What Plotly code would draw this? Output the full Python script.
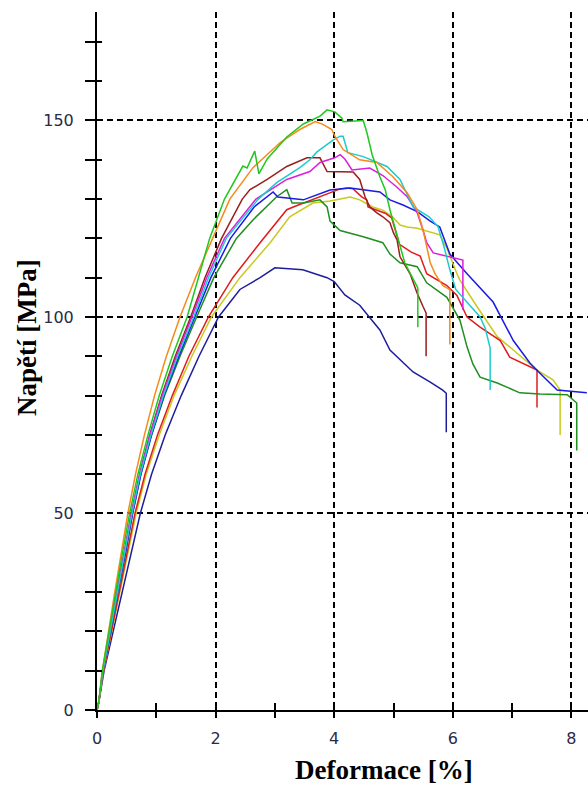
import plotly.graph_objects as go

# ---- data: strain [%] and stress [MPa] per specimen ----
X_ORANGE = [0, 0.03, 0.09, 0.19, 0.30, 0.41, 0.52, 0.65, 0.80, 0.97, 1.17, 1.40, 1.66, 1.95, 2.24, 2.63, 3.09, 3.42, 3.68, 3.81, 3.96, 4.01, 4.15, 4.43, 4.72, 4.99, 5.23, 5.40, 5.50, 5.62, 5.70, 5.83, 5.95, 5.95]
Y_ORANGE = [0, 2, 10, 20, 30, 40, 50, 60, 70, 80, 90, 100, 110, 120, 130, 138, 144.4, 147.7, 149.7, 149, 147.7, 146, 142.6, 140, 139.3, 135.7, 131.6, 127.3, 122, 113.8, 111, 108, 107, 93]

X_GREEN = [0, 0.03, 0.09, 0.20, 0.31, 0.43, 0.55, 0.69, 0.86, 1.05, 1.27, 1.52, 1.71, 1.90, 2.15, 2.36, 2.46, 2.53, 2.66, 2.73, 2.87, 3.20, 3.48, 3.76, 3.88, 4.01, 4.13, 4.15, 4.49, 4.55, 4.64, 4.77, 4.86, 4.94, 5.19, 5.41, 5.41]
Y_GREEN = [0, 2, 10, 20, 30, 40, 50, 60, 70, 80, 90, 100, 110, 120, 130, 135.7, 138.4, 137.9, 142.2, 136.4, 140.2, 145.8, 149.1, 151.1, 152.7, 152.2, 150.6, 149.7, 150, 147, 141.3, 135.7, 132.4, 127.3, 113.8, 107.4, 97.4]

X_CYAN = [0, 0.03, 0.10, 0.22, 0.34, 0.47, 0.59, 0.73, 0.91, 1.12, 1.36, 1.63, 1.88, 2.18, 2.72, 3.03, 3.42, 3.59, 3.71, 3.98, 4.10, 4.15, 4.18, 4.23, 4.49, 4.89, 5.11, 5.33, 5.60, 5.75, 5.85, 5.95, 6.05, 6.20, 6.46, 6.55, 6.63, 6.63]
Y_CYAN = [0, 2, 10, 20, 30, 40, 50, 60, 70, 80, 90, 100, 110, 120, 130, 134.2, 138, 140, 142, 145, 146, 146, 144.4, 141.8, 140.8, 138.3, 135, 128, 125.5, 123, 118, 112, 107, 104.5, 100, 97, 92, 81.4]

X_MAGENTA = [0, 0.03, 0.10, 0.21, 0.33, 0.46, 0.58, 0.72, 0.89, 1.10, 1.34, 1.60, 1.85, 2.15, 2.68, 3.20, 3.59, 3.76, 4.01, 4.10, 4.18, 4.30, 4.60, 4.82, 5.06, 5.23, 5.40, 5.50, 5.56, 5.67, 5.95, 6.17, 6.17]
Y_MAGENTA = [0, 2, 10, 20, 30, 40, 50, 60, 70, 80, 90, 100, 110, 120, 130, 135, 137, 139.3, 140.5, 141.3, 140.2, 137.4, 137.9, 136, 133, 130.6, 126.5, 122, 118.9, 116.3, 115.3, 114.5, 101.8]

X_BROWN = [0, 0.03, 0.10, 0.21, 0.33, 0.46, 0.58, 0.72, 0.89, 1.09, 1.32, 1.58, 1.82, 2.10, 2.45, 2.58, 2.87, 3.20, 3.54, 3.76, 3.88, 4.32, 4.43, 4.52, 4.60, 4.72, 4.82, 4.94, 5.00, 5.06, 5.11, 5.28, 5.40, 5.50, 5.55, 5.55]
Y_BROWN = [0, 2, 10, 20, 30, 40, 50, 60, 70, 80, 90, 100, 110, 120, 130, 132.4, 135, 138.3, 140.5, 140.5, 137, 136.9, 135, 130.6, 128, 126.5, 125.5, 124, 121.4, 119.6, 115.3, 111, 106, 102.6, 101, 90]

X_BLUE = [0, 0.03, 0.10, 0.22, 0.35, 0.48, 0.60, 0.74, 0.92, 1.13, 1.38, 1.65, 1.92, 2.25, 2.65, 2.97, 3.05, 3.48, 3.93, 4.27, 4.77, 4.94, 5.16, 5.40, 5.62, 5.78, 5.95, 6.24, 6.68, 7.02, 7.30, 7.47, 7.76, 8.26]
Y_BLUE = [0, 2, 10, 20, 30, 40, 50, 60, 70, 80, 90, 100, 110, 120, 128, 131.8, 130.5, 129.8, 132.3, 132.8, 131.8, 129.8, 128.5, 126.8, 124.4, 122.9, 116, 111, 103.8, 94, 88.3, 85.7, 81.4, 80.7]

X_DKGREEN = [0, 0.03, 0.10, 0.22, 0.35, 0.48, 0.60, 0.74, 0.92, 1.14, 1.40, 1.68, 1.97, 2.35, 2.63, 3.03, 3.20, 3.29, 3.48, 3.76, 3.88, 3.93, 4.10, 4.49, 4.82, 4.94, 5.11, 5.40, 5.56, 5.90, 6.00, 6.12, 6.24, 6.34, 6.46, 6.75, 7.13, 7.47, 7.93, 8.09, 8.09]
Y_DKGREEN = [0, 2, 10, 20, 30, 40, 50, 60, 70, 80, 90, 100, 110, 120, 124.7, 130.6, 132.4, 129, 129, 129.8, 128, 124.4, 122, 120.4, 118.9, 116, 113.8, 112.8, 108.7, 105, 102.5, 99.2, 92.4, 88, 84.7, 83.2, 80.7, 80.4, 80.2, 78.1, 66]

X_RED = [0, 0.03, 0.11, 0.24, 0.37, 0.51, 0.64, 0.81, 1.02, 1.27, 1.55, 1.88, 2.29, 2.75, 3.20, 3.31, 3.71, 4.10, 4.22, 4.32, 4.47, 4.55, 4.57, 4.72, 4.86, 4.97, 5.10, 5.30, 5.45, 5.56, 5.90, 6.07, 6.24, 6.46, 6.65, 6.80, 6.96, 7.18, 7.42, 7.42]
Y_RED = [0, 2, 10, 20, 30, 40, 50, 60, 70, 80, 90, 100, 110, 118.9, 127.3, 128, 130.4, 132.6, 132.8, 132.6, 130.5, 129.8, 128, 127.2, 126.4, 125.2, 118.5, 116.5, 115.5, 111, 108, 105.5, 100, 97.4, 95.5, 94, 89.8, 88.3, 86.5, 77]

X_YELLOW = [0, 0.03, 0.11, 0.25, 0.38, 0.52, 0.66, 0.83, 1.05, 1.30, 1.60, 1.93, 2.41, 2.92, 3.25, 3.64, 3.93, 4.27, 4.43, 4.65, 4.82, 4.99, 5.11, 5.23, 5.40, 5.78, 5.90, 6.07, 6.12, 6.41, 6.75, 7.02, 7.42, 7.69, 7.81, 7.81]
Y_YELLOW = [0, 2, 10, 20, 30, 40, 50, 60, 70, 80, 90, 100, 110, 118.9, 125.5, 129, 129.5, 130.5, 129.8, 128, 127.2, 125.4, 123.4, 122.9, 122.6, 120.9, 117.5, 111, 109.4, 102.6, 95, 91.6, 86.5, 84, 81.4, 70]

X_NAVY = [0, 0.03, 0.12, 0.27, 0.42, 0.58, 0.73, 0.92, 1.15, 1.42, 1.72, 2.05, 2.41, 2.75, 3.00, 3.47, 3.88, 4.00, 4.18, 4.43, 4.60, 4.77, 4.94, 5.33, 5.62, 5.83, 5.89, 5.89]
Y_NAVY = [0, 2, 10, 20, 30, 40, 50, 60, 70, 80, 90, 100, 107, 110, 112.5, 112, 110, 109, 105.6, 103, 99.7, 96.7, 91.6, 86, 83.4, 81.4, 80.6, 70.7]

SERIES = [
    ("navy", X_NAVY, Y_NAVY, "#1e1e9c"),
    ("yellow", X_YELLOW, Y_YELLOW, "#c9c91e"),
    ("red", X_RED, Y_RED, "#e01c1c"),
    ("dkgreen", X_DKGREEN, Y_DKGREEN, "#1f8f1f"),
    ("blue", X_BLUE, Y_BLUE, "#1a1ae8"),
    ("brown", X_BROWN, Y_BROWN, "#9a1e1e"),
    ("magenta", X_MAGENTA, Y_MAGENTA, "#dd1edd"),
    ("cyan", X_CYAN, Y_CYAN, "#1ccccc"),
    ("orange", X_ORANGE, Y_ORANGE, "#f58a1a"),
    ("green", X_GREEN, Y_GREEN, "#1ec81e"),
]

X_MAJOR = [0, 2, 4, 6, 8]
X_MINOR = [1, 3, 5, 7]
Y_MAJOR = [0, 50, 100, 150]
Y_MINOR = [10, 20, 30, 40, 60, 70, 80, 90, 110, 120, 130, 140, 160, 170]
X_RANGE = [0, 8.28]
Y_RANGE = [0, 177.6]

fig = go.Figure()
for name, xs, ys, col in SERIES:
    fig.add_trace(go.Scatter(x=xs, y=ys, mode="lines", name=name,
                             line=dict(color=col, width=1.5), showlegend=False))
# scaffold trace for the overlay axes carrying the inner half of the ticks
fig.add_trace(go.Scatter(x=[], y=[], xaxis="x2", yaxis="y2", showlegend=False))

tickfont = dict(family="DejaVu Sans", size=16, color="#2a2a4a")
grid = dict(showgrid=True, gridcolor="black", gridwidth=1.5, griddash="6px,4px")

fig.update_layout(
    width=588, height=790,
    margin=dict(l=97, r=0, t=12, b=80),
    paper_bgcolor="white", plot_bgcolor="white",
    xaxis=dict(range=X_RANGE, tickmode="array", tickvals=X_MAJOR,
               ticks="outside", ticklen=6, tickwidth=2, tickcolor="black",
               showline=True, linewidth=2, linecolor="black", zeroline=False,
               minor=dict(tickmode="array", tickvals=X_MINOR, ticks="outside", ticklen=6,
                          tickwidth=2, tickcolor="black", showgrid=False),
               tickfont=tickfont, ticklabelstandoff=7, **grid),
    yaxis=dict(range=Y_RANGE, tickmode="array", tickvals=Y_MAJOR,
               ticks="outside", ticklen=10, tickwidth=2, tickcolor="black",
               showline=True, linewidth=2, linecolor="black", zeroline=False,
               minor=dict(tickmode="array", tickvals=Y_MINOR, ticks="outside", ticklen=10,
                          tickwidth=2, tickcolor="black", showgrid=False),
               tickfont=tickfont, ticklabelstandoff=8, **grid),
    xaxis2=dict(range=X_RANGE, overlaying="x", anchor="y", side="bottom",
                tickmode="array", tickvals=X_MAJOR + X_MINOR, ticks="inside", ticklen=7,
                tickwidth=2, tickcolor="black", showticklabels=False,
                showgrid=False, zeroline=False, showline=False),
    yaxis2=dict(range=Y_RANGE, overlaying="y", anchor="x", side="left",
                tickmode="array", tickvals=Y_MAJOR + Y_MINOR, ticks="inside", ticklen=5,
                tickwidth=2, tickcolor="black", showticklabels=False,
                showgrid=False, zeroline=False, showline=False),
    annotations=[
        dict(text="<b>Deformace [%]</b>", xref="paper", yref="paper",
             x=(384 - 97) / 491, y=-(770 - 710) / 698, xanchor="center", yanchor="middle",
             showarrow=False, font=dict(family="Liberation Serif", size=27, color="black")),
        dict(text="<b>Napětí [MPa]</b>", xref="paper", yref="paper",
             x=-(97 - 27) / 491, y=(710 - 338) / 698, xanchor="center", yanchor="middle",
             textangle=-90, showarrow=False,
             font=dict(family="Liberation Serif", size=27, color="black")),
    ],
)

fig.write_html("out.html")
